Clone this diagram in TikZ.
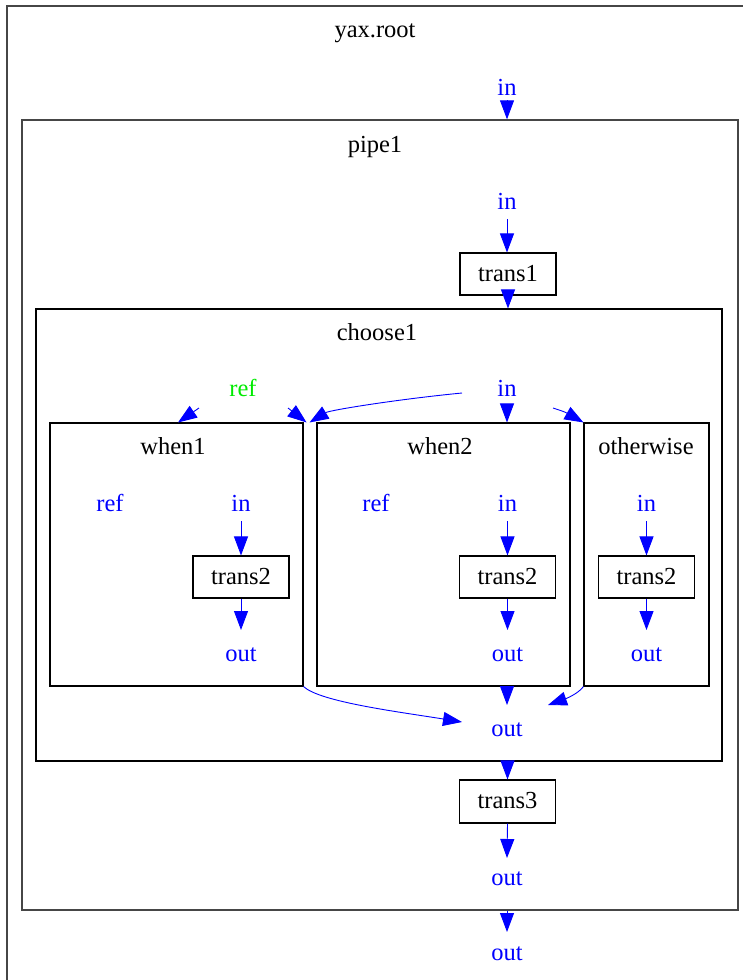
\documentclass[tikz,border=0pt]{standalone}
\usepackage{fontspec}
\setmainfont{Liberation Serif}
\usetikzlibrary{arrows.meta,calc}
\definecolor{portblue}{RGB}{0,0,255}
\definecolor{refgreen}{RGB}{0,235,0}
\definecolor{outline}{RGB}{70,70,70}
\begin{document}
\begin{tikzpicture}[x=1pt,y=-1pt,
  every node/.style={font=\fontsize{24.5}{28}\selectfont, inner sep=0pt,
    text height=24pt, text depth=10pt},
  cluster/.style={draw=black, line width=1.1pt, rectangle},
  outercluster/.style={draw=outline, line width=1.3pt, rectangle},
  opbox/.style={draw=black, line width=1.1pt, rectangle, minimum width=96pt, minimum height=42pt,
    text height=17pt, text depth=3pt},
  port/.style={text=portblue},
  refport/.style={text=refgreen},
  flow/.style={draw=portblue, line width=0.9pt, -{Triangle[length=19pt,width=14pt]}}]

\useasboundingbox (0,0) rectangle (743,980);
\clip (0,0) rectangle (743,980);

% clusters
\node[outercluster, minimum width=753pt, minimum height=994pt] (root) at (383.5,503) {};
\node[outercluster, minimum width=716pt, minimum height=790pt] (pipe1) at (380,515) {};
\node[cluster, minimum width=686pt, minimum height=452pt] (choose1) at (379,535) {};
\node[cluster, minimum width=253pt, minimum height=263pt] (when1) at (176.5,554.5) {};
\node[cluster, minimum width=253pt, minimum height=263pt] (when2) at (443.5,554.5) {};
\node[cluster, minimum width=125pt, minimum height=263pt] (otherwise) at (646.5,554.5) {};

% cluster titles
\node (rootT) at (375,30) {yax.root};
\node (pipeT) at (375,145) {pipe1};
\node (chooseT) at (377,333) {choose1};
\node (when1T) at (173,447) {when1};
\node (when2T) at (440,447) {when2};
\node (otherT) at (646,447) {otherwise};

% operation boxes
\node[opbox] (trans1) at (508,274) {trans1};
\node[opbox] (t2a) at (241,577) {trans2};
\node[opbox] (t2b) at (507.5,577) {trans2};
\node[opbox] (t2c) at (646.5,577) {trans2};
\node[opbox, minimum height=43pt] (trans3) at (507.5,801.5) {trans3};

% ports
\node[port] (inR) at (507,88) {in};
\node[port] (inP) at (507,202) {in};
\node[refport] (refC) at (243,389) {ref};
\node[port] (inC) at (507,389) {in};
\node[port] (ref1) at (110,504) {ref};
\node[port] (in1) at (241,504) {in};
\node[port] (out1) at (241,654) {out};
\node[port] (ref2) at (376,504) {ref};
\node[port] (in2) at (507.5,504) {in};
\node[port] (out2) at (507.5,654) {out};
\node[port] (in3) at (646.5,504) {in};
\node[port] (out3) at (646.5,654) {out};
\node[port] (outC) at (507,729) {out};
\node[port] (outP) at (507,878) {out};
\node[port] (outR) at (507,953) {out};

% data flow
\draw[flow] ([shift={(0,12)}]inR.center) -- (inR |- pipe1.north);
\draw[flow] (inP) -- (trans1.north -| inP);
\draw[flow] (trans1.south) -- (trans1.south |- choose1.north);

\draw[flow] ([shift={(-45,4)}]inC.center) .. controls (400,399) and (330,410) .. ([xshift=6pt]when1.north east);
\draw[flow] (inC) -- (inC |- when2.north);
\draw[flow] ([shift={(46,19)}]inC.center) .. controls (565,412) .. (otherwise.north west);
\draw[flow] ([shift={(-44,19)}]refC.center) -- ([xshift=1.5pt]when1.north);
\draw[flow] ([shift={(45,19)}]refC.center) -- ([xshift=3pt]when1.north east);

\draw[flow] (in1) -- (t2a);
\draw[flow] (t2a) -- ([shift={(0,-24)}]out1.center);
\draw[flow] (in2) -- (t2b);
\draw[flow] (t2b) -- ([shift={(0,-24)}]out2.center);
\draw[flow] (in3) -- (t2c);
\draw[flow] (t2c) -- ([shift={(0,-24)}]out3.center);

\draw[flow] (when1.south east) .. controls (320,702) and (400,712) .. ([shift={(-45,-7)}]outC.center);
\draw[flow] (outC |- when2.south) -- ([shift={(0,-24)}]outC.center);
\draw[flow] (otherwise.south west) .. controls (578,694) and (565,699) .. ([shift={(41,-24)}]outC.center);

\draw[flow] (trans3.north |- choose1.south) -- (trans3.north);
\draw[flow] (trans3.south) -- ([shift={(0,-20)}]outP.center);
\draw[flow] (outR |- pipe1.south) -- ([shift={(0,-21)}]outR.center);
\end{tikzpicture}
\end{document}
